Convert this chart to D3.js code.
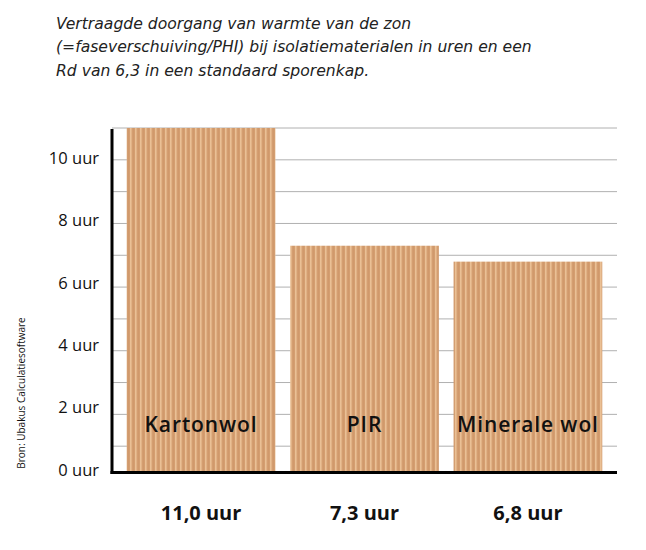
<!DOCTYPE html>
<html>
<head>
<meta charset="utf-8">
<script src="https://cdn.jsdelivr.net/npm/d3@7"></script>
<style>
  body { margin: 0; background: #fff; }
  svg { font-family: "Open Sans", "Noto Sans", sans-serif; }
</style>
</head>
<body>
<svg id="chart" width="646" height="550"></svg>
<script>
var materials = ["Kartonwol", "PIR", "Minerale wol"];
var hours = [11.0, 7.3, 6.8];
var valueLabels = ["11,0 uur", "7,3 uur", "6,8 uur"];
var tickValues = [0, 2, 4, 6, 8, 10];
var gridValues = [1, 2, 3, 4, 5, 6, 7, 8, 9, 10, 11];
var titleLines = [
    "Vertraagde doorgang van warmte van de zon",
    "(=faseverschuiving/PHI) bij isolatiematerialen in uren en een",
    "Rd van 6,3 in een standaard sporenkap."
];
var sourceText = "Bron: Ubakus Calculatiesoftware";

function renderChart() {
    let svg = d3.select('#chart');
    svg.selectAll('*').remove();

    let left = 112, right = 617, baseline = 472.5;

    // cardboard texture
    let defs = svg.append('defs');
    let pat = defs.append('pattern')
        .attr('id', 'karton')
        .attr('patternUnits', 'userSpaceOnUse')
        .attr('width', 5)
        .attr('height', 10);
    pat.append('rect').attr('width', 5).attr('height', 10).attr('fill', '#d49e70');
    pat.append('rect').attr('x', 0).attr('width', 1.6).attr('height', 10).attr('fill', '#eac095');
    pat.append('rect').attr('x', 3.3).attr('width', 0.7).attr('height', 10).attr('fill', '#c48c5e').attr('opacity', 0.4);

    let x = d3.scaleBand()
        .domain(materials)
        .range([left, right])
        .paddingInner(0.09)
        .paddingOuter(0.09);

    let y = d3.scaleLinear()
        .domain([0, 11])
        .range([478, 128]);

    // tick labels sit a little above their gridlines
    let yLabel = d3.scaleLinear()
        .domain([0, 10])
        .range([470, 158]);

    // title
    svg.append('g').selectAll('text')
        .data(titleLines)
        .enter()
        .append('text')
        .attr('x', 56)
        .attr('y', (d, i) => 29 + i * 23.3)
        .style('font-family', '"DejaVu Sans", sans-serif')
        .attr('font-size', 15.6)
        .attr('font-style', 'italic')
        .attr('fill', '#222')
        .text(d => d);

    // gridlines
    svg.append('g').selectAll('line')
        .data(gridValues)
        .enter()
        .append('line')
        .attr('x1', left)
        .attr('x2', right)
        .attr('y1', d => y(d))
        .attr('y2', d => y(d))
        .style('stroke', '#b0b0b0')
        .style('stroke-width', 1);

    // bars
    svg.append('g').selectAll('rect')
        .data(hours)
        .enter()
        .append('rect')
        .attr('x', (d, i) => x(materials[i]))
        .attr('width', x.bandwidth())
        .attr('y', d => y(d))
        .attr('height', d => baseline - y(d))
        .attr('fill', 'url(#karton)');

    // names inside bars
    svg.append('g').selectAll('text')
        .data(materials)
        .enter()
        .append('text')
        .attr('x', d => x(d) + x.bandwidth() / 2)
        .attr('y', 431.5)
        .attr('text-anchor', 'middle')
        .attr('font-size', 21)
        .attr('font-weight', 600)
        .attr('letter-spacing', 0.9)
        .attr('fill', '#111')
        .text(d => d);

    // values under axis
    svg.append('g').selectAll('text')
        .data(valueLabels)
        .enter()
        .append('text')
        .attr('x', (d, i) => x(materials[i]) + x.bandwidth() / 2)
        .attr('y', 520)
        .attr('text-anchor', 'middle')
        .attr('font-size', 20)
        .attr('font-weight', 'bold')
        .attr('fill', '#111')
        .text(d => d);

    // y tick labels
    svg.append('g').selectAll('text')
        .data(tickValues)
        .enter()
        .append('text')
        .attr('x', 99)
        .attr('y', d => yLabel(d))
        .attr('dy', '0.35em')
        .attr('text-anchor', 'end')
        .attr('font-size', 16.5)
        .attr('fill', '#111')
        .text(d => d + ' uur');

    // axis lines
    svg.append('line')
        .attr('x1', left).attr('x2', left)
        .attr('y1', 129).attr('y2', baseline + 1.5)
        .style('stroke', '#000')
        .style('stroke-width', 3);
    svg.append('line')
        .attr('x1', left - 1.5).attr('x2', right)
        .attr('y1', baseline).attr('y2', baseline)
        .style('stroke', '#000')
        .style('stroke-width', 3);

    // source
    svg.append('text')
        .attr('transform', 'translate(25, 393) rotate(-90)')
        .attr('text-anchor', 'middle')
        .attr('font-size', 10)
        .attr('fill', '#111')
        .text(sourceText);
}

renderChart();
</script>
</body>
</html>
